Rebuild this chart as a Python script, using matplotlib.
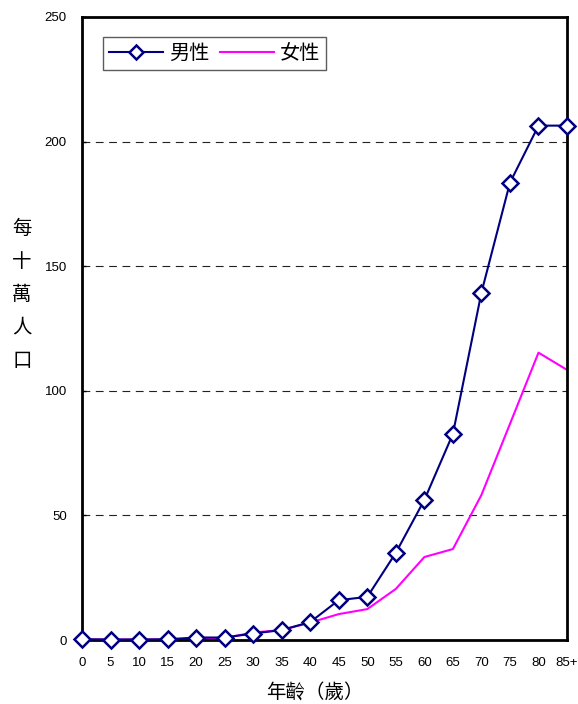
import matplotlib.pyplot as plt
import numpy as np

plt.rcParams['font.family'] = ['Liberation Sans', 'Noto Sans CJK TC', 'DejaVu Sans']

ages = ['0', '5', '10', '15', '20', '25', '30', '35', '40', '45', '50',
        '55', '60', '65', '70', '75', '80', '85+']
male = [0.3, 0.2, 0.2, 0.3, 1.0, 1.0, 2.6, 4.0, 7.2, 16.0, 17.3,
        35.0, 56.2, 82.7, 139.4, 183.5, 206.4, 206.4]
female = [0.2, 0.2, 0.2, 0.2, 0.5, 0.8, 3.0, 4.0, 7.0, 10.4, 12.4,
          20.5, 33.3, 36.5, 58.2, 86.7, 115.3, 108.4]

fig = plt.figure(figsize=(5.78, 7.04), dpi=100)
ax = fig.add_axes([0.1419, 0.0909, 0.8391, 0.885])

x = np.arange(len(ages))
ax.plot(x, male, color='#000080', lw=1.5, marker='D', markersize=8,
        markerfacecolor='white', markeredgecolor='#000080', markeredgewidth=1.8,
        label='男性', clip_on=False, zorder=3)
ax.plot(x, female, color='#FF00FF', lw=1.5, label='女性', clip_on=False, zorder=2)

ax.set_xlim(0, len(ages) - 1)
ax.set_ylim(0, 250)
ax.set_xticks(x)
ax.set_xticklabels(ages, fontsize=9.5)
ax.set_yticks([0, 50, 100, 150, 200, 250])
ax.tick_params(axis='x', length=0, pad=12)
ax.tick_params(axis='y', length=3, width=1, direction='in', labelsize=9.5, pad=11)
for yv in [50, 100, 150, 200]:
    ax.axhline(yv, color='#222222', lw=0.8, ls=(0, (7, 5)), zorder=1)
for s in ax.spines.values():
    s.set_linewidth(2)

leg = ax.legend(loc='upper left', bbox_to_anchor=(0.043, 0.968), ncol=2,
                frameon=True, fancybox=False, edgecolor='#333333',
                prop={'family': ['Noto Sans CJK TC'], 'size': 14.5},
                handlelength=2.7, handletextpad=0.3, columnspacing=0.5,
                borderpad=0.3, borderaxespad=0, markerscale=0.9)
leg.get_frame().set_linewidth(1)

fig.text(0.038, 0.582, '\n'.join('每十萬人口'), fontsize=14, ha='center', va='center',
         family=['Noto Sans CJK TC'], linespacing=1.75)
fig.text(0.545, 0.0156, '年齡（歲）', fontsize=14, ha='center', va='center',
         family=['Noto Sans CJK TC'])

fig.savefig('out.png', dpi=100)
